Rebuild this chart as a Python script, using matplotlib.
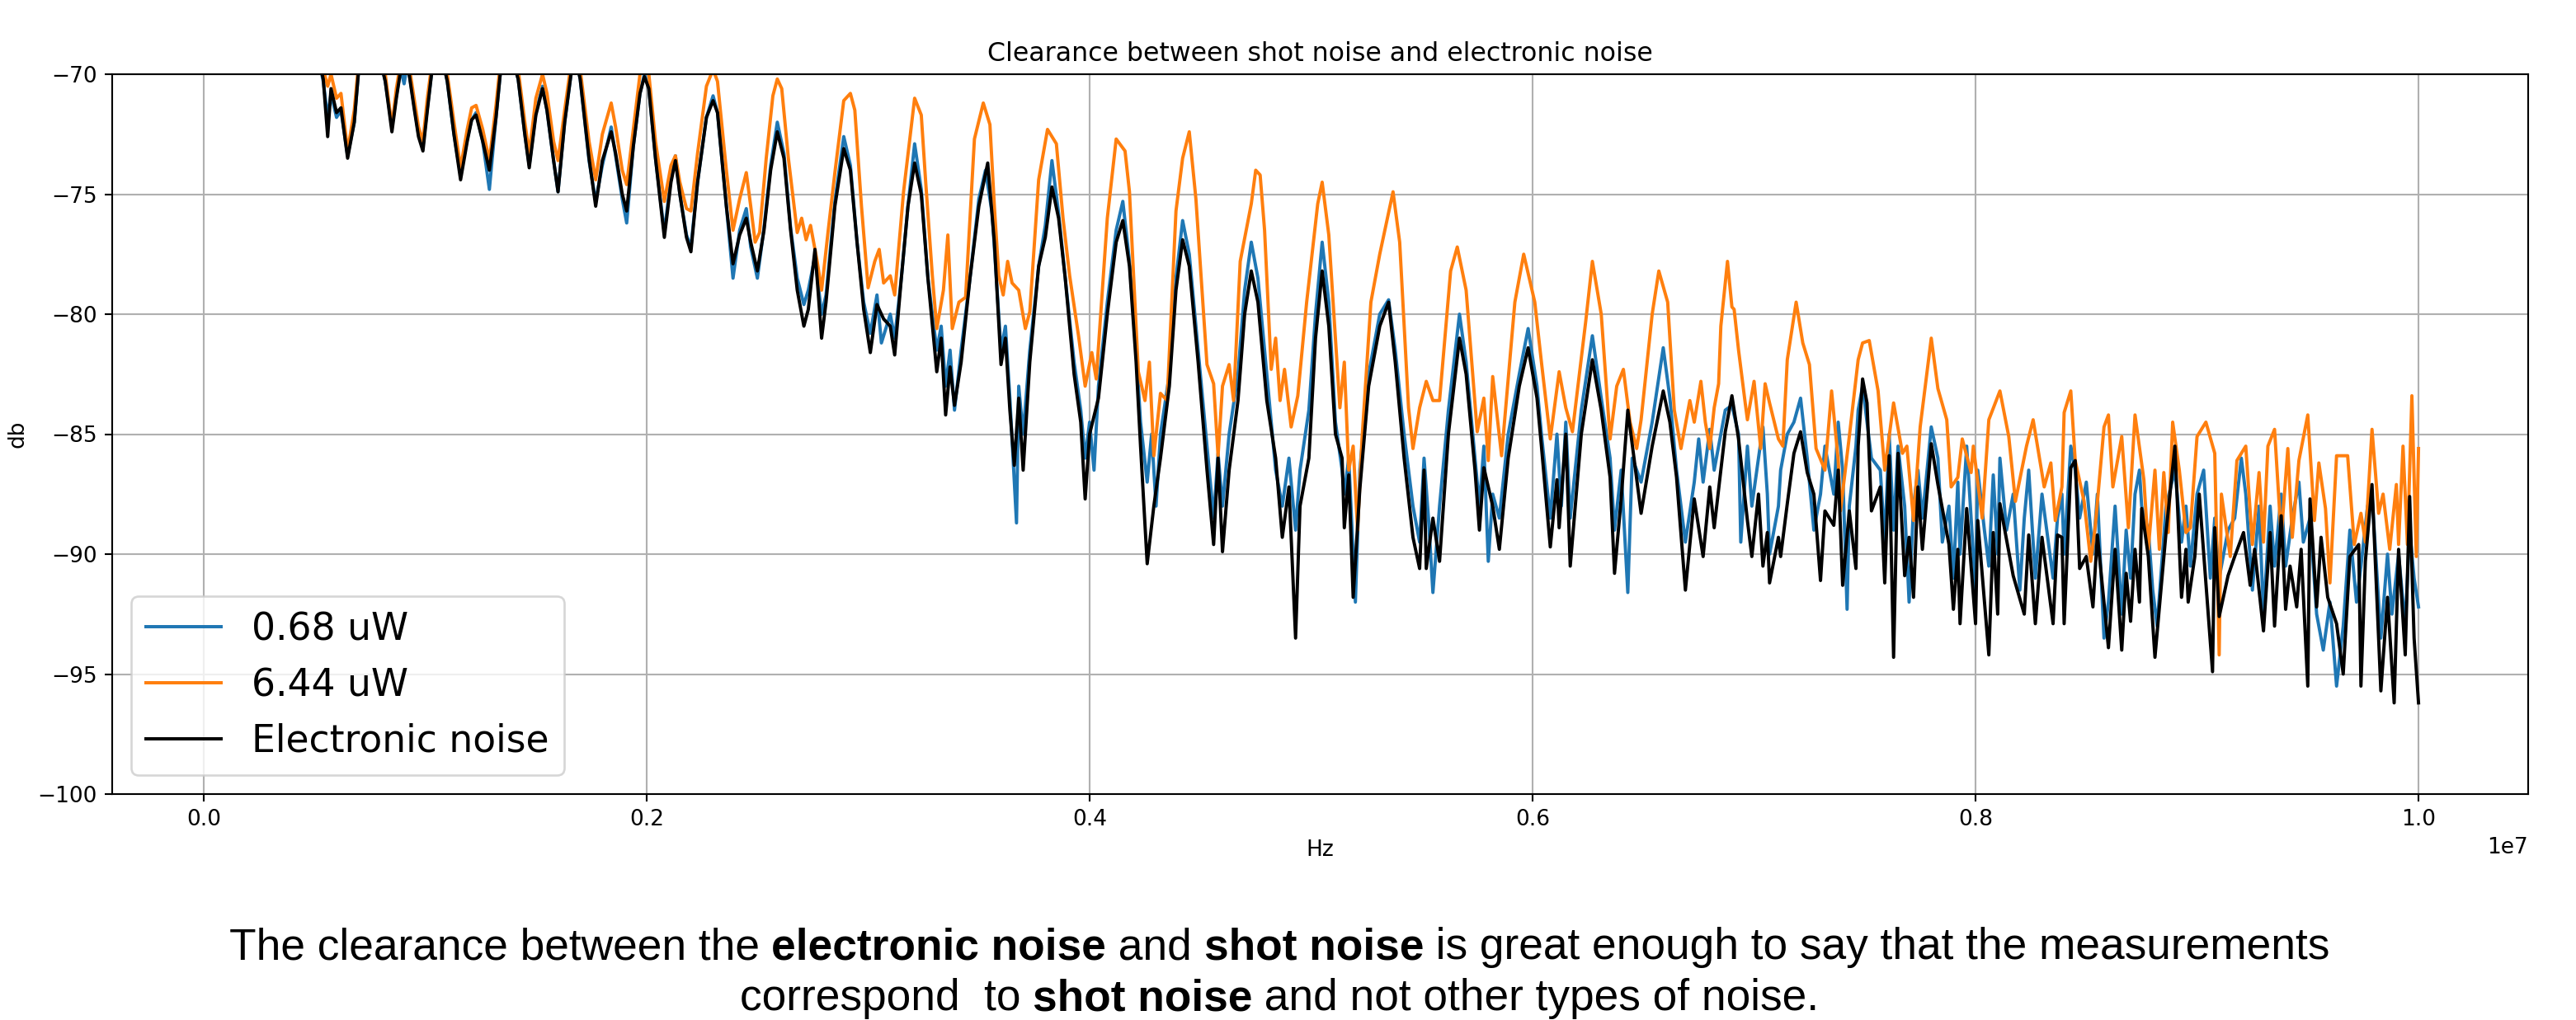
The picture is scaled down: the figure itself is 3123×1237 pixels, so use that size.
import matplotlib
matplotlib.use('Agg')
import matplotlib.pyplot as plt

# (MHz, dB)
blue_pts = [(0.0,-52),(0.2,-60),(0.4,-65),(0.5,-68.5),(0.54,-70.3),(0.56,-71.8),(0.575,-70.8),(0.60,-71.8),(0.62,-71.5),(0.65,-73.4),(0.68,-72.0),(0.70,-69.8),(0.75,-68.8),(0.80,-69.5),(0.82,-70.3),(0.85,-72.2),(0.87,-70.9),(0.89,-69.8),(0.905,-70.4),(0.92,-69.5),(0.95,-71.3),(0.97,-72.5),(0.99,-73.0),(1.01,-71.4),(1.03,-69.9),(1.07,-69.0),(1.10,-70.3),(1.13,-72.5),(1.16,-74.2),(1.19,-72.7),(1.21,-71.9),(1.23,-71.6),(1.26,-72.8),(1.29,-74.8),(1.32,-71.8),(1.34,-69.9),(1.38,-68.9),(1.42,-70.2),(1.45,-72.5),(1.47,-73.8),(1.50,-71.6),(1.53,-70.5),(1.55,-71.5),(1.58,-73.6),(1.60,-74.9),(1.63,-72.0),(1.66,-69.9),(1.68,-69.3),(1.70,-70.2),(1.74,-73.6),(1.77,-75.3),(1.80,-73.8),(1.84,-72.2),(1.86,-73.4),(1.89,-75.2),(1.91,-76.2),(1.94,-73.0),(1.97,-70.8),(1.99,-70.0),(2.01,-70.6),(2.04,-73.5),(2.08,-76.6),(2.11,-74.3),(2.13,-73.4),(2.15,-75.0),(2.18,-76.7),(2.20,-77.2),(2.23,-74.5),(2.27,-71.8),(2.30,-70.9),(2.32,-71.6),(2.36,-75.5),(2.39,-78.5),(2.42,-76.5),(2.45,-75.6),(2.47,-77.2),(2.50,-78.5),
    (2.53,-76.4),(2.56,-73.8),(2.59,-72.0),(2.62,-73.3),(2.65,-76.4),(2.68,-78.5),(2.71,-79.6),(2.73,-79.0),(2.76,-77.6),(2.79,-80.0),(2.81,-79.2),(2.85,-75.3),(2.89,-72.6),(2.92,-73.8),(2.95,-77.0),(2.98,-79.5),(3.01,-80.8),(3.04,-79.2),(3.06,-81.2),(3.10,-80.0),(3.12,-81.0),(3.15,-78.5),(3.18,-75.5),(3.21,-72.9),(3.24,-74.8),(3.27,-78.5),(3.31,-81.5),(3.33,-80.5),(3.35,-83.0),(3.37,-81.5),(3.39,-84.0),(3.42,-81.5),(3.46,-78.5),(3.50,-75.2),(3.53,-74.0),(3.56,-75.8),(3.60,-81.5),(3.62,-80.5),(3.64,-83.5),(3.67,-88.7),(3.68,-83.0),(3.70,-85.0),(3.73,-81.5),(3.77,-78.0),(3.80,-76.3),(3.83,-73.6),(3.86,-75.8),(3.89,-78.5),(3.93,-82.0),(3.96,-84.0),(3.98,-86.0),(4.00,-84.5),(4.02,-86.5),(4.04,-83.0),(4.08,-79.5),(4.12,-76.5),(4.15,-75.3),(4.18,-77.8),(4.21,-81.5),(4.23,-84.5),(4.26,-87.0),(4.28,-85.0),(4.30,-88.0),(4.32,-85.0),(4.36,-82.5),(4.39,-78.5),(4.42,-76.1),(4.45,-77.5),(4.49,-81.5),(4.53,-85.5),(4.56,-88.5),(4.58,-85.8),
    (4.60,-88.0),(4.63,-85.0),(4.67,-82.5),(4.70,-79.0),(4.73,-77.0),(4.76,-78.5),(4.80,-82.5),(4.84,-86.5),(4.87,-88.0),(4.90,-86.0),(4.93,-89.0),(4.95,-86.5),(4.99,-84.0),(5.02,-80.0),(5.05,-77.0),(5.08,-79.5),(5.11,-84.5),(5.14,-86.5),(5.15,-87.5),(5.17,-86.0),(5.20,-92.0),(5.22,-86.5),(5.26,-82.5),(5.31,-80.0),(5.35,-79.4),(5.38,-81.5),(5.42,-85.0),(5.46,-88.0),(5.49,-89.5),(5.51,-86.0),(5.53,-88.5),(5.55,-91.6),(5.58,-88.0),(5.62,-84.0),(5.67,-80.0),(5.70,-82.0),(5.74,-86.0),(5.76,-88.0),(5.78,-85.5),(5.80,-90.3),(5.82,-87.5),(5.85,-88.5),(5.89,-85.0),(5.94,-82.5),(5.98,-80.6),(6.02,-83.0),(6.04,-85.0),(6.08,-88.5),(6.11,-85.0),(6.13,-88.0),(6.15,-84.5),(6.17,-88.5),(6.22,-84.0),(6.27,-80.9),(6.31,-83.5),(6.35,-86.0),(6.37,-89.0),(6.40,-86.5),(6.43,-91.6),(6.45,-86.0),(6.49,-87.0),(6.54,-84.5),(6.59,-81.4),(6.62,-83.5),(6.65,-86.5),(6.69,-89.5),(6.73,-87.0),
    (6.75,-85.2),(6.77,-87.0),(6.80,-84.8),(6.82,-86.5),(6.87,-84.0),(6.90,-83.8),(6.93,-85.0),(6.94,-89.5),(6.97,-85.5),(6.99,-88.0),(7.02,-86.0),(7.04,-84.7),(7.06,-87.5),(7.07,-90.0),(7.11,-88.0),(7.12,-86.5),(7.15,-85.0),(7.18,-84.5),(7.21,-83.5),(7.24,-86.0),(7.27,-89.0),(7.30,-87.5),(7.32,-85.5),(7.36,-87.5),(7.38,-84.5),(7.40,-86.5),(7.42,-92.3),(7.43,-88.0),(7.46,-85.5),(7.47,-84.0),(7.49,-83.0),(7.51,-84.5),(7.53,-86.0),(7.57,-86.5),(7.59,-89.5),(7.61,-85.0),(7.63,-89.0),(7.65,-85.5),(7.68,-88.0),(7.70,-92.0),(7.72,-88.0),(7.74,-86.5),(7.76,-88.5),(7.80,-84.7),(7.83,-86.0),(7.85,-89.5),(7.88,-88.0),(7.90,-91.0),(7.92,-87.0),(7.93,-90.0),(7.96,-85.5),(7.98,-88.5),(8.00,-91.5),(8.01,-86.5),(8.04,-89.0),(8.06,-90.5),(8.08,-86.7),(8.10,-90.0),(8.11,-86.0),(8.14,-89.0),(8.17,-87.5),(8.20,-91.5),(8.22,-88.5),(8.24,-86.5),(8.27,-91.0),(8.30,-87.5),(8.35,-91.0),(8.37,-88.5),
    (8.39,-87.5),(8.40,-90.0),(8.43,-85.5),(8.45,-86.5),(8.47,-88.5),(8.50,-87.0),(8.53,-90.0),(8.55,-87.5),(8.58,-93.5),(8.60,-92.0),(8.63,-88.0),(8.66,-92.5),(8.68,-89.0),(8.70,-91.0),(8.72,-87.5),(8.74,-86.5),(8.75,-88.0),(8.78,-89.0),(8.80,-91.5),(8.82,-93.0),(8.86,-88.0),(8.90,-86.5),(8.93,-89.5),(8.95,-88.0),(8.97,-90.5),(9.00,-87.5),(9.03,-86.5),(9.06,-91.0),(9.08,-88.5),(9.10,-91.0),(9.14,-89.0),(9.17,-88.5),(9.20,-86.0),(9.22,-87.5),(9.25,-91.5),(9.28,-88.0),(9.30,-92.5),(9.33,-88.0),(9.35,-90.5),(9.38,-87.5),(9.40,-90.5),(9.43,-88.5),(9.46,-87.0),(9.48,-89.5),(9.51,-88.5),(9.54,-92.5),(9.57,-94.0),(9.60,-92.0),(9.63,-95.5),(9.66,-93.0),(9.69,-89.0),(9.72,-92.0),(9.74,-90.5),(9.77,-88.0),(9.79,-87.5),(9.83,-93.5),(9.86,-90.0),(9.88,-92.5),(9.91,-90.0),(9.94,-93.0),(9.96,-89.0),(9.98,-91.0),(10.0,-92.2)]

orange_pts = [(0.0,-51),(0.2,-59),(0.4,-64),(0.5,-68),(0.54,-69.8),(0.56,-70.5),(0.575,-70.0),(0.60,-71.0),(0.62,-70.8),(0.65,-73.2),(0.68,-71.5),(0.70,-69.5),(0.75,-68.5),(0.80,-69.2),(0.82,-70.0),(0.85,-72.2),(0.87,-70.6),(0.89,-69.5),(0.92,-69.2),(0.95,-71.0),(0.97,-72.2),(0.99,-72.8),(1.01,-71.0),(1.03,-69.6),(1.07,-68.6),(1.10,-70.0),(1.13,-72.0),(1.16,-73.9),(1.19,-72.3),(1.21,-71.4),(1.23,-71.3),(1.26,-72.3),(1.29,-73.6),(1.32,-71.3),(1.34,-69.5),(1.38,-68.5),(1.42,-69.8),(1.45,-72.0),(1.47,-73.3),(1.50,-71.0),(1.53,-70.0),(1.55,-70.8),(1.58,-72.8),(1.60,-73.6),(1.63,-71.5),(1.66,-69.5),(1.68,-68.8),(1.70,-69.8),(1.74,-72.8),(1.77,-74.4),(1.80,-72.5),(1.84,-71.2),(1.86,-72.2),(1.89,-74.0),(1.91,-74.6),(1.94,-72.3),(1.97,-70.0),(1.99,-69.5),(2.01,-70.0),(2.04,-72.8),(2.08,-75.3),(2.11,-73.8),(2.13,-73.4),(2.15,-74.5),(2.18,-75.6),(2.20,-75.7),(2.23,-73.3),(2.27,-70.5),(2.30,-69.8),(2.32,-70.3),(2.36,-74.0),(2.39,-76.5),(2.42,-75.2),(2.45,-74.1),(2.47,-75.5),(2.49,-77.0),(2.51,-76.6),
    (2.54,-73.5),(2.57,-70.9),(2.59,-70.2),(2.61,-70.6),(2.64,-73.5),(2.68,-76.6),(2.70,-76.0),(2.72,-76.9),(2.74,-76.3),(2.77,-77.8),(2.79,-79.0),(2.82,-76.5),(2.85,-74.1),(2.89,-71.1),(2.92,-70.8),(2.94,-71.5),(2.97,-75.5),(3.00,-78.9),(3.03,-77.8),(3.05,-77.3),(3.07,-78.7),(3.10,-78.4),(3.12,-79.2),(3.16,-74.9),(3.21,-71.0),(3.24,-71.7),(3.26,-74.5),(3.29,-78.4),(3.31,-80.6),(3.34,-79.0),(3.36,-76.7),(3.38,-80.6),(3.41,-79.5),(3.44,-79.3),(3.48,-72.7),(3.52,-71.2),(3.55,-72.1),(3.57,-75.5),(3.59,-78.4),(3.61,-79.2),(3.63,-77.8),(3.65,-78.7),(3.68,-79.0),(3.71,-80.6),(3.73,-79.9),(3.77,-74.4),(3.81,-72.3),(3.85,-72.9),(3.88,-76.0),(3.91,-78.4),(3.95,-80.9),(3.98,-83.0),(4.01,-81.6),(4.03,-82.7),(4.08,-76.0),(4.12,-72.7),(4.16,-73.2),(4.18,-74.9),(4.22,-82.4),(4.25,-83.6),(4.27,-82.0),(4.29,-85.9),(4.32,-83.3),(4.35,-83.6),(4.39,-75.7),(4.42,-73.5),(4.45,-72.4),(4.48,-75.2),(4.53,-82.1),(4.56,-82.9),(4.58,-85.9),
    (4.60,-83.0),(4.63,-82.1),(4.65,-83.6),(4.68,-77.8),(4.73,-75.4),(4.75,-74.0),(4.77,-74.2),(4.79,-76.5),(4.82,-82.3),(4.84,-81.0),(4.86,-83.6),(4.88,-82.3),(4.91,-84.7),(4.94,-83.4),(4.98,-79.5),(5.03,-75.4),(5.05,-74.5),(5.08,-76.7),(5.13,-83.9),(5.15,-82.0),(5.17,-86.5),(5.19,-85.5),(5.21,-89.0),(5.23,-85.2),(5.27,-79.5),(5.31,-77.5),(5.37,-74.9),(5.40,-77.0),(5.44,-83.9),(5.46,-85.6),(5.49,-83.9),(5.52,-82.8),(5.55,-83.6),(5.58,-83.6),(5.63,-78.2),(5.66,-77.2),(5.70,-79.0),(5.75,-84.9),(5.78,-83.5),(5.80,-86.1),(5.82,-82.6),(5.86,-85.9),(5.92,-79.5),(5.96,-77.5),(6.01,-79.5),(6.04,-82.0),(6.07,-84.4),(6.08,-85.2),(6.12,-82.4),(6.15,-83.9),(6.18,-84.9),(6.24,-80.3),(6.27,-77.8),(6.31,-80.0),(6.35,-85.2),(6.38,-83.0),(6.41,-82.3),(6.44,-84.5),(6.47,-85.6),(6.49,-84.4),(6.54,-80.0),(6.57,-78.2),(6.61,-79.5),(6.64,-84.0),(6.67,-85.6),(6.71,-83.6),(6.73,-84.5),
    (6.76,-82.8),(6.78,-84.5),(6.80,-85.6),(6.82,-83.9),(6.84,-82.9),(6.85,-80.5),(6.88,-77.8),(6.90,-79.7),(6.91,-79.8),(6.93,-81.5),(6.96,-83.7),(6.97,-84.4),(7.00,-82.8),(7.03,-85.6),(7.05,-82.9),(7.07,-83.7),(7.11,-85.2),(7.13,-85.5),(7.15,-81.9),(7.19,-79.5),(7.22,-81.2),(7.25,-82.1),(7.28,-85.6),(7.32,-86.5),(7.35,-83.2),(7.38,-86.1),(7.39,-88.2),(7.43,-85.1),(7.47,-81.9),(7.49,-81.2),(7.52,-81.1),(7.56,-83.2),(7.59,-86.5),(7.63,-83.7),(7.67,-85.8),(7.69,-85.5),(7.72,-88.6),(7.75,-84.7),(7.80,-81.0),(7.83,-83.1),(7.87,-84.4),(7.89,-87.2),(7.92,-86.8),(7.94,-85.2),(7.98,-86.6),(7.99,-85.5),(8.03,-88.5),(8.06,-84.4),(8.11,-83.2),(8.15,-85.1),(8.18,-87.8),(8.23,-85.5),(8.26,-84.4),(8.31,-87.2),(8.34,-86.2),(8.36,-88.6),
    (8.39,-87.2),(8.40,-84.1),(8.43,-83.2),(8.45,-86.1),(8.49,-87.8),(8.52,-90.3),(8.54,-88.9),(8.58,-84.7),(8.60,-84.2),(8.62,-87.2),(8.66,-85.1),(8.69,-88.9),(8.72,-84.2),(8.76,-86.9),(8.78,-89.8),(8.81,-86.5),(8.83,-89.8),(8.85,-86.6),(8.87,-89.1),(8.89,-84.5),(8.92,-86.5),(8.95,-89.1),(8.97,-88.9),(9.00,-85.1),(9.04,-84.5),(9.08,-85.8),(9.10,-94.2),(9.11,-87.5),(9.15,-90.1),(9.18,-86.1),(9.22,-85.5),(9.25,-89.6),(9.28,-86.6),(9.30,-89.5),(9.32,-85.5),(9.35,-84.8),(9.38,-89.3),(9.41,-85.6),(9.43,-89.3),(9.46,-86.1),(9.50,-84.2),(9.53,-88.6),(9.55,-86.2),(9.58,-88.1),(9.60,-91.2),(9.63,-85.9),(9.68,-85.9),(9.71,-89.6),(9.74,-88.3),(9.76,-89.5),(9.79,-84.8),(9.82,-88.3),(9.84,-87.5),(9.87,-89.8),(9.90,-87.1),(9.91,-89.6),(9.93,-85.5),(9.95,-89.6),(9.97,-83.4),(9.99,-90.1),(10.0,-85.6)]

black_pts = [(0.0,-52),(0.2,-60),(0.4,-65),(0.5,-68.5),(0.54,-70.2),(0.56,-72.6),(0.575,-70.6),(0.60,-71.6),(0.62,-71.4),(0.65,-73.5),(0.68,-72.0),(0.70,-69.8),(0.75,-68.8),(0.80,-69.5),(0.82,-70.3),(0.85,-72.4),(0.87,-71.0),(0.89,-69.8),(0.92,-69.5),(0.95,-71.4),(0.97,-72.6),(0.99,-73.2),(1.01,-71.5),(1.03,-69.9),(1.07,-69.0),(1.10,-70.3),(1.13,-72.5),(1.16,-74.4),(1.19,-72.8),(1.21,-71.9),(1.23,-71.7),(1.26,-72.8),(1.29,-74.0),(1.32,-71.8),(1.34,-69.9),(1.38,-68.9),(1.42,-70.2),(1.45,-72.5),(1.47,-73.9),(1.50,-71.7),(1.53,-70.6),(1.55,-71.5),(1.58,-73.6),(1.60,-74.9),(1.63,-72.0),(1.66,-69.9),(1.68,-69.3),(1.70,-70.2),(1.74,-73.5),(1.77,-75.5),(1.80,-73.6),(1.84,-72.4),(1.86,-73.3),(1.89,-75.0),(1.91,-75.7),(1.94,-73.0),(1.97,-70.8),(1.99,-70.1),(2.01,-70.6),(2.04,-73.5),(2.08,-76.8),(2.11,-74.5),(2.13,-73.6),(2.15,-75.0),(2.18,-76.8),(2.20,-77.4),(2.23,-74.5),(2.27,-71.8),(2.30,-71.1),(2.32,-71.6),(2.36,-75.5),(2.39,-77.9),(2.42,-76.7),(2.45,-76.0),(2.47,-77.0),(2.50,-78.2),
    (2.53,-76.5),(2.56,-74.0),(2.59,-72.4),(2.62,-73.5),(2.65,-76.5),(2.68,-79.0),(2.71,-80.5),(2.73,-79.8),(2.76,-77.3),(2.79,-81.0),(2.81,-79.5),(2.85,-75.5),(2.89,-73.1),(2.92,-74.0),(2.95,-77.0),(2.98,-79.8),(3.01,-81.6),(3.04,-79.6),(3.07,-80.2),(3.10,-80.5),(3.12,-81.7),(3.15,-78.5),(3.18,-75.5),(3.21,-73.7),(3.24,-75.0),(3.27,-78.5),(3.31,-82.4),(3.33,-81.0),(3.35,-84.2),(3.37,-82.2),(3.39,-83.8),(3.42,-82.0),(3.46,-78.5),(3.50,-75.5),(3.54,-73.7),(3.57,-77.0),(3.60,-82.1),(3.62,-81.0),(3.64,-84.0),(3.66,-86.3),(3.68,-83.5),(3.70,-86.5),(3.73,-82.0),(3.77,-78.0),(3.80,-76.8),(3.83,-74.7),(3.86,-76.0),(3.89,-78.5),(3.93,-82.5),(3.96,-84.5),(3.98,-87.7),(4.00,-85.0),(4.04,-83.5),(4.08,-80.0),(4.12,-77.0),(4.15,-76.1),(4.18,-78.0),(4.21,-82.0),(4.23,-85.5),(4.26,-90.4),(4.29,-88.0),(4.32,-86.0),(4.36,-83.0),(4.39,-79.0),(4.42,-76.9),(4.45,-78.0),(4.49,-82.0),(4.53,-86.5),(4.56,-89.6),(4.58,-86.0),
    (4.60,-89.9),(4.63,-86.5),(4.67,-83.6),(4.70,-80.0),(4.73,-78.2),(4.76,-79.5),(4.80,-83.6),(4.84,-86.0),(4.87,-89.3),(4.90,-87.2),(4.93,-93.5),(4.95,-88.0),(4.99,-86.0),(5.02,-81.0),(5.05,-78.2),(5.08,-80.5),(5.11,-85.0),(5.14,-86.0),(5.15,-88.9),(5.17,-86.7),(5.19,-91.8),(5.22,-87.3),(5.26,-83.0),(5.31,-80.5),(5.35,-79.5),(5.38,-82.0),(5.42,-86.0),(5.46,-89.3),(5.49,-90.6),(5.51,-86.5),(5.52,-90.6),(5.55,-88.5),(5.58,-90.3),(5.62,-85.0),(5.67,-81.0),(5.70,-82.5),(5.74,-86.5),(5.76,-89.0),(5.78,-86.4),(5.82,-88.0),(5.85,-89.8),(5.89,-86.0),(5.94,-83.0),(5.98,-81.4),(6.02,-83.5),(6.04,-85.5),(6.08,-89.7),(6.11,-86.9),(6.12,-88.9),(6.15,-85.0),(6.17,-90.5),(6.22,-85.0),(6.27,-81.9),(6.31,-84.0),(6.35,-86.8),(6.37,-90.8),(6.40,-87.7),(6.43,-84.0),(6.49,-88.3),(6.54,-85.5),(6.59,-83.2),(6.62,-84.5),(6.65,-86.8),(6.69,-91.5),(6.73,-87.7),
    (6.77,-90.1),(6.80,-87.2),(6.82,-88.9),(6.87,-84.9),(6.90,-83.4),(6.93,-85.2),(6.97,-88.6),(6.99,-90.1),(7.02,-87.5),(7.04,-90.5),(7.06,-89.1),(7.07,-91.2),(7.11,-89.3),(7.12,-90.1),(7.15,-87.9),(7.18,-85.8),(7.21,-84.9),(7.24,-86.6),(7.27,-87.5),(7.30,-91.1),(7.32,-88.2),(7.36,-88.8),(7.38,-86.5),(7.40,-91.3),(7.43,-88.2),(7.46,-90.6),(7.47,-85.5),(7.49,-82.7),(7.51,-83.7),(7.53,-88.2),(7.57,-87.2),(7.59,-91.2),(7.61,-85.9),(7.63,-94.3),(7.65,-85.8),(7.68,-90.9),(7.70,-89.3),(7.72,-91.8),(7.74,-87.2),(7.76,-89.8),(7.80,-85.4),(7.83,-87.1),(7.88,-89.6),(7.90,-92.3),(7.92,-89.8),(7.93,-92.9),(7.96,-88.1),(8.00,-92.9),(8.01,-88.6),(8.06,-94.2),(8.08,-89.1),(8.10,-92.5),(8.11,-87.9),(8.17,-90.9),(8.22,-92.5),(8.24,-89.2),(8.27,-92.9),(8.30,-89.3),(8.35,-92.9),(8.37,-89.2),
    (8.39,-89.3),(8.40,-92.9),(8.43,-86.4),(8.45,-86.1),(8.47,-90.6),(8.50,-90.1),(8.53,-92.2),(8.55,-89.2),(8.60,-93.9),(8.63,-89.8),(8.66,-94.0),(8.68,-90.8),(8.70,-92.8),(8.72,-89.8),(8.74,-92.0),(8.75,-88.1),(8.78,-90.1),(8.81,-94.3),(8.86,-89.1),(8.90,-85.5),(8.93,-91.8),(8.95,-89.8),(8.96,-92.0),(8.99,-90.1),(9.01,-87.5),(9.07,-94.9),(9.08,-88.9),(9.10,-92.6),(9.14,-90.9),(9.17,-90.1),(9.21,-89.1),(9.24,-91.3),(9.26,-89.8),(9.30,-93.2),(9.33,-89.1),(9.35,-93.0),(9.38,-88.4),(9.40,-92.3),(9.42,-90.5),(9.45,-92.2),(9.47,-89.8),(9.50,-95.5),(9.51,-87.7),(9.54,-92.2),(9.56,-89.3),(9.59,-91.8),(9.63,-92.9),(9.66,-95.0),(9.69,-90.1),(9.73,-89.6),(9.74,-95.5),(9.76,-90.3),(9.79,-87.1),(9.83,-95.7),(9.86,-91.8),(9.89,-96.2),(9.91,-89.8),(9.94,-94.2),(9.96,-87.6),(9.98,-93.5),(10.0,-96.2)]

series_labels = ['0.68 uW', '6.44 uW', 'Electronic noise']
caption_line1 = [('The clearance between the ', 'normal'), ('electronic noise', 'bold'), (' and ', 'normal'),
                 ('shot noise', 'bold'), (' is great enough to say that the measurements', 'normal')]
caption_line2 = [('correspond  to ', 'normal'), ('shot noise', 'bold'), (' and not other types of noise.', 'normal')]

def unpack(pts):
    return [p[0] * 1e6 for p in pts], [p[1] for p in pts]

fig = plt.figure(figsize=(3123 / 190, 1237 / 190), dpi=190)
ax = fig.add_axes([136 / 3123, 1 - 963 / 1237, (3065 - 136) / 3123, (963 - 90) / 1237])

f, v = unpack(blue_pts)
ax.plot(f, v, color='#1f77b4', label=series_labels[0])
f, v = unpack(orange_pts)
ax.plot(f, v, color='#ff7f0e', label=series_labels[1])
f, v = unpack(black_pts)
ax.plot(f, v, color='black', label=series_labels[2])

ax.set_xlim(-0.413e6, 10.495e6)
ax.set_ylim(-100, -70)
ax.grid(True)
ax.set_title('Clearance between shot noise and electronic noise')
ax.set_xlabel('Hz')
ax.set_ylabel('db')
ax.legend(loc='lower left', fontsize=17.3)

# caption below the chart, mixed normal / bold
fig.canvas.draw()
renderer = fig.canvas.get_renderer()

def rich_line(parts, y_px, xc_px):
    texts = []
    for s, w in parts:
        t = fig.text(0, 0, s, fontsize=20.2, fontweight=w, family='Liberation Sans', va='baseline')
        texts.append(t)
    widths = [t.get_window_extent(renderer).width for t in texts]
    x = xc_px - sum(widths) / 2
    for t, w in zip(texts, widths):
        t.set_position((x / 3123, 1 - y_px / 1237))
        x += w

rich_line(caption_line1, 1163, 1551)
rich_line(caption_line2, 1225, 1551)

fig.savefig('out.png', dpi=190)
